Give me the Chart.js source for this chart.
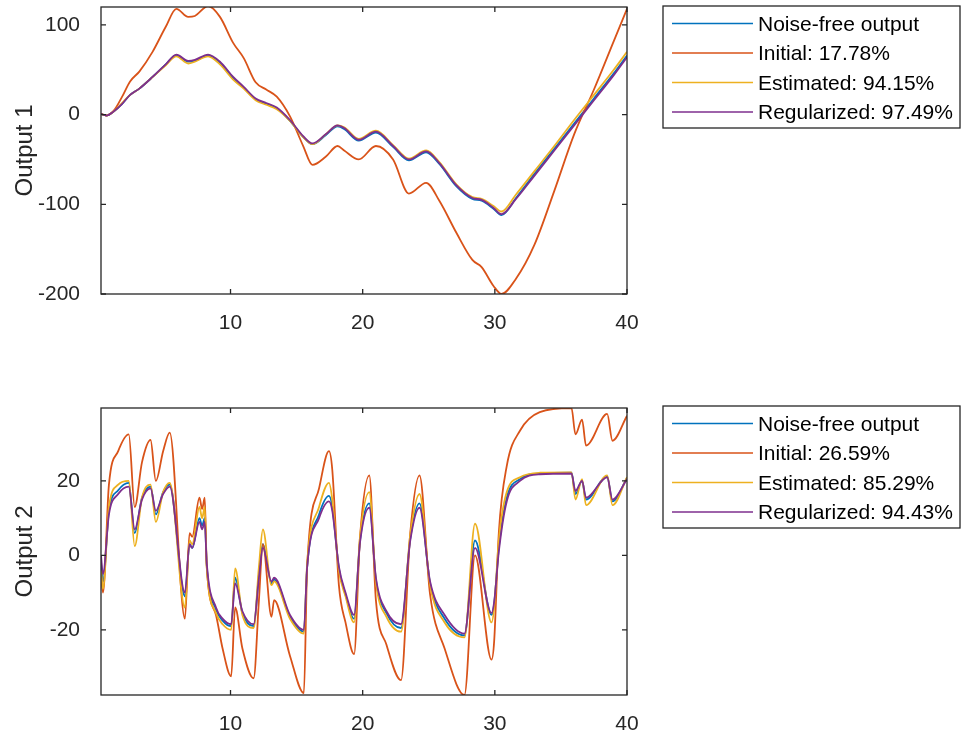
<!DOCTYPE html>
<html>
<head>
<meta charset="utf-8">
<script src="https://cdn.jsdelivr.net/npm/chart.js@4.4.0/dist/chart.umd.min.js"></script>
<style>
  body { margin: 0; background: #fff; }
  canvas { display: block; }
</style>
</head>
<body>
<canvas id="out1" width="966" height="367"></canvas>
<canvas id="out2" width="966" height="367"></canvas>
<script>
const legend1 = ['Noise-free output', 'Initial: 17.78%', 'Estimated: 94.15%', 'Regularized: 97.49%'];
const legend2 = ['Noise-free output', 'Initial: 26.59%', 'Estimated: 85.29%', 'Regularized: 94.43%'];
const xTicks = [10, 20, 30, 40];
const yTicks1 = [-200, -100, 0, 100];
const yTicks2 = [-20, 0, 20];

// Output 1
const t1 = [0.2, 0.6, 1.2, 1.8, 2.4, 3.1, 4.1, 5.1, 5.9, 6.8, 7.3, 8.3, 9.2, 10.2, 11.0, 11.9, 12.7, 13.5, 14.5, 15.5,
  16.2, 17.2, 18.1, 18.6, 19.7, 21.0, 22.3, 23.5, 24.8, 25.8, 27.1, 28.3, 29.0, 29.9, 30.5, 31.6, 33.0, 34.5, 36.0, 37.5, 39.0, 40];
const noiseFree1 = [1, -1, 4, 12, 22, 29, 42, 56, 66, 59, 60, 66, 58, 41, 30, 17, 12, 7, -7, -25,
  -33, -23, -13, -16, -29, -20, -36, -51, -42, -55, -80, -94, -96, -105, -112, -93, -66, -38, -10, 18, 46, 66];
const initial1 = [1, -1, 5, 20, 37, 48, 70, 98, 118, 109, 110, 121, 109, 80, 63, 36, 28, 20, -2, -35,
  -56, -47, -35, -40, -50, -35, -50, -88, -76, -96, -132, -162, -170, -191, -200, -183, -145, -85, -22, 28, 82, 118];
const estimated1 = [1, -1, 4, 13, 22, 29, 42, 55, 65, 57, 59, 65, 56, 39, 29, 16, 11, 6, -7, -25,
  -33, -22, -12, -14, -27, -18, -34, -49, -40, -53, -78, -92, -94, -102, -108, -89, -63, -35, -6, 22, 50, 70];
const regularized1 = [1, -1, 4, 12, 22, 29, 42, 56, 67, 60, 61, 67, 59, 42, 31, 18, 13, 8, -6, -24,
  -32, -22, -12, -15, -28, -19, -35, -50, -41, -54, -79, -93, -95, -104, -111, -94, -68, -40, -12, 16, 44, 64];

// Output 2
const t2 = [0.2, 0.35, 0.8, 1.5, 2.3, 2.75, 3.3, 3.95, 4.35, 4.9, 5.4, 6.55, 6.9, 7.1, 7.65, 7.85, 8.05, 8.2, 8.9, 9.4,
  10.05, 10.35, 10.9, 11.75, 12.15, 12.45, 13.1, 13.3, 14.5, 15.55, 15.8, 16.7, 17.45, 17.7, 18.2, 18.7, 19.35, 19.8, 20.5, 21.0,
  21.8, 22.9, 23.6, 24.3, 25.1, 26.2, 27.7, 28.5, 29.75, 29.95, 30.3, 30.9, 31.9, 33.4, 35.8, 36.1, 36.6, 36.9, 38.5, 38.9, 40];
const noiseFree2 = [-2, -7, 12, 17.5, 19.5, 6, 15.5, 18.5, 11, 17, 19, -11, 3, 2, 10, 8, 10, -2.5, -14.5, -17.5,
  -19, -6, -15.5, -19, -5, 3, -7.5, -6.5, -16.5, -20.5, -3, 11, 16, 13, -3.5, -10.5, -17, 4, 14, -6.5,
  -15.5, -19.5, 4.5, 14, -7.5, -17, -21.5, 4, -16, -13, 2, 15.5, 20.5, 22, 22.2, 16.5, 20, 15, 21.2, 14.5, 20.8];
const initial2 = [-5, -10, 19, 28, 32.5, 13, 25, 31, 20, 28, 33, -17, 6, 5, 15.5, 12.5, 15.5, -3, -16, -25,
  -32.5, -14, -25, -33, -12, 3, -16.5, -12, -27, -37, -3, 18, 28, 23, -8, -18, -26.5, 5, 21.5, -12,
  -24, -33.5, 6, 21.5, -10.5, -25, -37.5, 0, -28, -23, 6, 24, 33.5, 38.5, 39.6, 32.5, 36.5, 29.5, 38, 30.8, 37.5];
const estimated2 = [-4, -9, 13, 19, 20, 2.5, 15.5, 19, 9, 17, 19.5, -14, 4, 3, 13, 10, 13, -3, -15.5, -18.5,
  -20, -3.5, -16, -19.5, -3, 7, -8, -7, -17, -21, -2, 13, 19.5, 15, -4, -11, -18, 5, 17, -7,
  -16.5, -20.5, 5.5, 16.5, -8, -18, -22, 8.5, -18, -14, 4, 17, 21, 22.2, 22.3, 15, 20.5, 13.5, 21.5, 13.5, 21];
const regularized2 = [0, -5, 11, 16.5, 18.5, 7, 15, 18, 12, 16.5, 18.5, -10, 3, 2, 9, 7, 9, -2, -14, -17,
  -18.5, -7.5, -15, -18.5, -6, 2, -7, -6, -16, -20, -3, 10, 14.5, 12, -3, -10, -16, 3.5, 12.8, -6,
  -15, -18.5, 4, 12.8, -7, -16, -21, 2, -15.5, -12.5, 1, 14.5, 20, 21.8, 22, 17.3, 20, 15.5, 21, 15, 20.5];

const lineColors = ['#0072BD', '#D95319', '#EDB120', '#7E2F8E'];
const ink = '#262626';
const fontFamily = "'Liberation Sans', Arial, Helvetica, sans-serif";

Chart.defaults.font.family = fontFamily;
Chart.defaults.color = ink;

function pts(t, v) {
  return t.map((x, i) => ({ x: x, y: v[i] }));
}

// box round the axes, inward ticks, and the legend box on the right
const matlabFrame = {
  id: 'matlabFrame',
  afterDraw(chart, args, opts) {
    const { ctx, chartArea: a, scales } = chart;
    ctx.save();
    ctx.strokeStyle = ink;
    ctx.lineWidth = 1.3;
    ctx.strokeRect(a.left, a.top, a.right - a.left, a.bottom - a.top);
    ctx.beginPath();
    scales.x.ticks.forEach(tk => {
      const px = scales.x.getPixelForValue(tk.value);
      ctx.moveTo(px, a.bottom); ctx.lineTo(px, a.bottom - 5);
      ctx.moveTo(px, a.top); ctx.lineTo(px, a.top + 5);
    });
    scales.y.ticks.forEach(tk => {
      const py = scales.y.getPixelForValue(tk.value);
      ctx.moveTo(a.left, py); ctx.lineTo(a.left + 5, py);
      ctx.moveTo(a.right, py); ctx.lineTo(a.right - 5, py);
    });
    ctx.stroke();

    const L = opts.box;
    ctx.fillStyle = '#fff';
    ctx.fillRect(L.x, L.y, L.w, L.h);
    ctx.strokeStyle = ink;
    ctx.lineWidth = 1.3;
    ctx.strokeRect(L.x, L.y, L.w, L.h);
    ctx.font = '21px ' + fontFamily;
    ctx.textBaseline = 'middle';
    ctx.textAlign = 'left';
    chart.data.datasets.forEach((ds, i) => {
      const cy = L.y + 17.5 + i * 29.5;
      ctx.strokeStyle = ds.borderColor;
      ctx.lineWidth = 1.6;
      ctx.beginPath();
      ctx.moveTo(L.x + 9, cy);
      ctx.lineTo(L.x + 90, cy);
      ctx.stroke();
      ctx.fillStyle = '#000';
      ctx.fillText(ds.label, L.x + 95, cy + 1.5);
    });
    ctx.restore();
  }
};

function makeChart(id, t, series, labels, yMin, yMax, yTicks, title, padTop, box) {
  return new Chart(document.getElementById(id), {
    type: 'line',
    data: {
      datasets: series.map((v, i) => ({
        label: labels[i],
        data: pts(t, v),
        borderColor: lineColors[i],
        borderWidth: 1.8,
        pointRadius: 0,
        cubicInterpolationMode: 'monotone',
        fill: false,
        order: series.length - i   // later series drawn on top, as in the original
      }))
    },
    options: {
      responsive: false,
      animation: false,
      devicePixelRatio: 1,
      layout: { padding: { left: 0, right: 339, top: padTop, bottom: 0 } },
      plugins: {
        legend: { display: false },
        tooltip: { enabled: false },
        matlabFrame: { box: box }
      },
      scales: {
        x: {
          type: 'linear',
          min: 0.2,
          max: 40,
          afterBuildTicks: s => { s.ticks = xTicks.map(v => ({ value: v })); },
          afterFit: s => { s.height = 367 - padTop - 287; s.paddingLeft = 0; s.paddingRight = 0; },
          grid: { display: false },
          border: { display: false },
          ticks: { font: { size: 21 }, padding: 9, maxRotation: 0, autoSkip: false }
        },
        y: {
          type: 'linear',
          min: yMin,
          max: yMax,
          afterBuildTicks: s => { s.ticks = yTicks.map(v => ({ value: v })); },
          afterFit: s => { s.width = 101; s.paddingTop = 0; s.paddingBottom = 0; },
          grid: { display: false },
          border: { display: false },
          ticks: { font: { size: 21 }, padding: 13 },
          title: { display: true, text: title, font: { size: 24, lineHeight: 1.2 }, padding: { top: 11, bottom: 0 } }
        }
      }
    },
    plugins: [matlabFrame]
  });
}

makeChart('out1', t1, [noiseFree1, initial1, estimated1, regularized1], legend1,
  -200, 120, yTicks1, 'Output 1', 7, { x: 663, y: 6, w: 297, h: 122 });
makeChart('out2', t2, [noiseFree2, initial2, estimated2, regularized2], legend2,
  -37.5, 39.6, yTicks2, 'Output 2', 41, { x: 663, y: 39, w: 297, h: 122 });
</script>
</body>
</html>
